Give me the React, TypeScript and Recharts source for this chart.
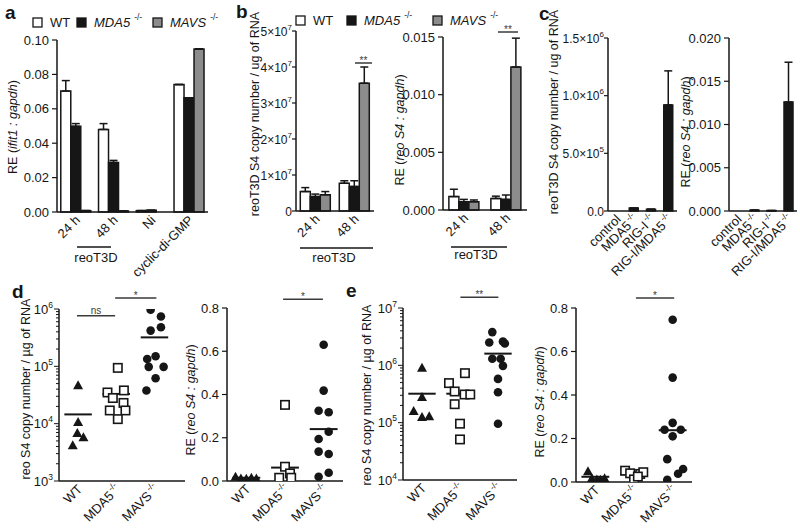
import React from "react";
import {
  BarChart, Bar, XAxis, YAxis, ErrorBar,
  ScatterChart, Scatter, ReferenceLine,
} from "recharts";

const W = 800;
const H = 531;
const YW = 50;
const XH = 30;
const FONT = "'Liberation Sans', Arial, Helvetica, sans-serif";
const INK = "#161616";
const GREY = "#8c8c8c";
const SIG = "#3a3a3a";

// ---- a: ifit1 induction
const aCats = ["24 h", "48 h", "Ni", "cyclic-di-GMP"];
const aWT = [0.0703, 0.048, 0.0008, 0.0741];
const aWTErr = [0.0061, 0.0034, 0, 0];
const aMDA5 = [0.0498, 0.0288, 0.001, 0.0664];
const aMDA5Err = [0.0016, 0.0012, 0, 0];
const aMAVS = [0.0008, 0.0006, 0, 0.0948];
const aTicks = [0, 0.02, 0.04, 0.06, 0.08, 0.1];

// ---- b: reoT3D S4 in knockout cells
const bCats = ["24 h", "48 h"];
const bCopyWT = [5.4e6, 7.7e6];
const bCopyWTErr = [1.1e6, 0.7e6];
const bCopyMDA5 = [4.0e6, 6.8e6];
const bCopyMDA5Err = [0.7e6, 1.6e6];
const bCopyMAVS = [4.5e6, 3.55e7];
const bCopyMAVSErr = [0.9e6, 0.45e7];
const bCopyTicks = [0, 1e7, 2e7, 3e7, 4e7, 5e7];
const bCopyTickLabels = [["0", ""], ["1×10", "7"], ["2×10", "7"], ["3×10", "7"], ["4×10", "7"], ["5×10", "7"]];
const bReWT = [0.00116, 0.001];
const bReWTErr = [0.00064, 0.0002];
const bReMDA5 = [0.00072, 0.00092];
const bReMDA5Err = [0.0002, 0.00038];
const bReMAVS = [0.00072, 0.0124];
const bReMAVSErr = [0.00015, 0.0025];
const bReTicks = [0, 0.005, 0.01, 0.015];

// ---- c: MEFs lacking RIG-I / MDA5
const cCats = ["control", "MDA5", "RIG-I", "RIG-I/MDA5"];
const cCopy = [0, 2.5e4, 1.5e4, 9.2e5];
const cCopyErr = [0, 0, 0, 2.95e5];
const cCopyTicks = [0, 5e5, 1e6, 1.5e6];
const cCopyTickLabels = [["0.0", ""], ["5.0×10", "5"], ["1.0×10", "6"], ["1.5×10", "6"]];
const cRe = [0, 0.0001, 0.00005, 0.0126];
const cReErr = [0, 0, 0, 0.0046];
const cReTicks = [0, 0.005, 0.01, 0.015, 0.02];
const cSup: Record<string, string> = { MDA5: "-/-", "RIG-I": "-/-", "RIG-I/MDA5": "-/-" };

// ---- d / e: individual mice
const groups = ["WT", "MDA5", "MAVS"];
const groupSup = ["", "-/-", "-/-"];
const logMajors = [1, 10];
const minorSteps = [1, 2, 3, 4, 5, 6, 7, 8, 9];
const reTicks = [0, 0.2, 0.4, 0.6, 0.8];

const dCopyWT = [4.7e4, 1.07e4, 6.9e3, 5.8e3, 4.2e3];
const dCopyWTx = [0, 0, -0.02, 0.14, -0.14];
const dCopyMDA5 = [9.4e4, 3.5e4, 3.8e4, 2.8e4, 2.3e4, 1.7e4, 1.7e4, 1.2e4];
const dCopyMDA5x = [0.04, -0.23, 0.2, -0.09, 0.19, -0.17, 0.24, 0.04];
const dCopyMAVS = [9.7e5, 7.4e5, 4.2e5, 4.8e5, 1.34e5, 1.5e5, 9.8e4, 9.8e4, 6.2e4, 3.8e4];
const dCopyMAVSx = [-0.1, 0.17, -0.1, 0.17, -0.19, 0.03, -0.15, 0.24, 0.03, -0.21];
const dCopyMeans = [1.45e4, 3.3e4, 3.2e5];

const dReWT = [0.02, 0.012, 0.01, 0.015, 0.011];
const dReWTx = [-0.28, -0.14, 0, 0.13, 0.26];
const dReMDA5 = [0.352, 0.066, 0.035, 0.015, 0.015];
const dReMDA5x = [0, 0, 0.13, -0.15, 0.16];
const dReMAVS = [0.63, 0.418, 0.325, 0.318, 0.228, 0.194, 0.136, 0.125, 0.038, 0.02];
const dReMAVSx = [0, 0, -0.13, 0.13, 0.13, -0.13, -0.13, 0.13, 0.13, -0.13];
const dReMeans = [0.015, 0.062, 0.24];

const eCopyWT = [9.1e5, 2.8e5, 1.6e5, 1.26e5, 1.3e5];
const eCopyWTx = [0, 0, -0.22, 0, 0.19];
const eCopyMDA5 = [7.3e5, 4.9e5, 3.5e5, 3.1e5, 3.1e5, 2.1e5, 9.6e4, 5.1e4];
const eCopyMDA5x = [0.13, -0.29, -0.14, 0.12, 0.27, -0.14, 0, 0];
const eCopyMAVS = [3.8e6, 2.5e6, 2.6e6, 2.4e6, 1.3e6, 1.3e6, 9.8e5, 5.8e5, 3.4e5, 9.6e4];
const eCopyMAVSx = [-0.15, -0.23, 0.13, 0.18, -0.15, 0.07, 0.13, 0, 0, 0];
const eCopyMeans = [3.2e5, 3.2e5, 1.6e6];

const eReWT = [0.05, 0.017, 0.012, 0.017, 0.01];
const eReWTx = [-0.19, -0.09, 0.04, 0.24, 0.13];
const eReMDA5 = [0.052, 0.04, 0.037, 0.045, 0.012, 0.025];
const eReMDA5x = [-0.23, -0.1, 0.16, 0.24, 0, 0.1];
const eReMAVS = [0.746, 0.48, 0.272, 0.24, 0.24, 0.21, 0.105, 0.06, 0.038, 0.01];
const eReMAVSx = [0, 0, 0, -0.21, 0.21, 0, -0.14, 0.27, 0.14, -0.14];
const eReMeans = [0.024, 0.035, 0.238];

// significance brackets: [from group, to group, y, text]
const dCopySig: [number, number, number, string][] = [[-0.03, 0.97, 7.6e5, "ns"], [0.97, 2.05, 1.56e6, "*"]];
const dReSig: [number, number, number, string][] = [[0.95, 1.98, 0.84, "*"]];
const eCopySig: [number, number, number, string][] = [[1.01, 2.01, 1.54e7, "**"]];
const eReSig: [number, number, number, string][] = [[1.05, 2.04, 0.846, "*"]];

type Box = [number, number, number, number];
const plotMargin = ([x0, x1, y0, y1]: Box) => ({ left: x0 - YW, right: W - x1, top: y0, bottom: H - y1 - XH });
const layer: React.CSSProperties = { position: "absolute", left: 0, top: 0 };
const axisLine = { stroke: INK, strokeWidth: 1.5 };
const tickLine = { stroke: INK, strokeWidth: 1.2 };
const tickFont = { fontSize: 13, fill: INK };

const logTicks = (lo: number, hi: number) => {
  const out: number[] = [];
  for (let m = lo; m < hi; m *= logMajors[1]) minorSteps.forEach((k) => out.push(m * k));
  out.push(hi);
  return out;
};

const pts = (ys: number[], xs: number[], g: number) => ys.map((y, i) => ({ x: g + xs[i], y }));

function RotLabel({ x, y, text, sup }: any) {
  const ax = x + 5;
  const ay = y + 9;
  return (
    <text x={ax} y={ay} transform={`rotate(-45 ${ax} ${ay})`} textAnchor="end" fontSize={13} fill={INK}>
      {text}
      {sup ? <tspan fontSize={8.5} dx={1.5} dy={-6}>{sup}</tspan> : null}
    </text>
  );
}

const CatTick = ({ x, y, payload, sup }: any) => (
  <RotLabel x={x} y={y} text={payload.value} sup={sup ? sup[payload.value] : ""} />
);

const GroupTick = ({ x, y, payload }: any) => (
  <RotLabel x={x} y={y} text={groups[payload.value]} sup={groupSup[payload.value]} />
);

const SciTick = ({ x, y, payload, labels, ticks }: any) => {
  const [base, exp] = labels[ticks.indexOf(payload.value)] || ["", ""];
  return (
    <text x={x} y={y} dy={4.5} textAnchor="end" fontSize={12} fill={INK}>
      {base}
      {exp ? <tspan fontSize={8} dy={-6}>{exp}</tspan> : null}
    </text>
  );
};

const LogTick = ({ x, y, payload }: any) => {
  const lg = Math.log10(payload.value);
  const major = Math.abs(lg - Math.round(lg)) < 1e-6;
  return (
    <g>
      <line x1={x} x2={x - (major ? 5 : 3)} y1={y} y2={y} stroke={INK} strokeWidth={1} />
      {major ? (
        <text x={x - 6} y={y} dy={4.5} textAnchor="end" fontSize={13} fill={INK}>
          10<tspan fontSize={8.5} dy={-6}>{Math.round(lg)}</tspan>
        </text>
      ) : null}
    </g>
  );
};

const Tri = (p: any) => (
  <path d={`M${p.cx},${p.cy - 5}L${p.cx + 5},${p.cy + 4}L${p.cx - 5},${p.cy + 4}Z`} fill={INK} />
);
const Sq = (p: any) => (
  <rect x={p.cx - 4.2} y={p.cy - 4.2} width={8.4} height={8.4} fill="#fff" stroke={INK} strokeWidth={1.6} />
);
const Dot = (p: any) => <circle cx={p.cx} cy={p.cy} r={4.3} fill={INK} />;

function BarPanel({ box, rows, keys, yDomain, yTicks, yTick, yFormat, gap, barSize, xSup }: any) {
  return (
    <div style={layer}>
      <BarChart width={W} height={H} data={rows} margin={plotMargin(box)} barCategoryGap={gap} barGap={0} barSize={barSize}>
        <XAxis dataKey="cat" interval={0} height={XH} axisLine={axisLine} tickLine={false} tickSize={0} tickMargin={0}
          tick={<CatTick sup={xSup} />} />
        <YAxis type="number" domain={yDomain} ticks={yTicks} interval={0} width={YW} axisLine={axisLine}
          tickLine={tickLine} tickSize={yTick ? 4 : 5} tickMargin={yTick ? 0 : 3} tick={yTick || tickFont}
          tickFormatter={yFormat} />
        {keys.map((k: any) => (
          <Bar key={k.key} dataKey={k.key} fill={k.fill} stroke={INK} strokeWidth={1.5} isAnimationActive={false}>
            <ErrorBar dataKey={k.key + "Err"} width={4} stroke={INK} strokeWidth={1.5} isAnimationActive={false} />
          </Bar>
        ))}
      </BarChart>
    </div>
  );
}

function DotPanel({ box, xDomain, log, yDomain, wt, mda5, mavs, means, sigs }: any) {
  return (
    <div style={layer}>
      <ScatterChart width={W} height={H} margin={plotMargin(box)}>
        <XAxis type="number" dataKey="x" domain={xDomain} ticks={[0, 1, 2]} interval={0} allowDataOverflow
          height={XH} axisLine={axisLine} tickLine={false} tickSize={0} tickMargin={0} tick={<GroupTick />} />
        {log ? (
          <YAxis type="number" dataKey="y" scale="log" domain={yDomain} allowDataOverflow ticks={logTicks(yDomain[0], yDomain[1])}
            interval={0} width={YW} axisLine={axisLine} tickLine={false} tickSize={0} tickMargin={0} tick={<LogTick />} />
        ) : (
          <YAxis type="number" dataKey="y" domain={yDomain} allowDataOverflow ticks={reTicks} interval={0} width={YW}
            axisLine={axisLine} tickLine={tickLine} tickSize={5} tickMargin={3} tick={tickFont}
            tickFormatter={(v: number) => v.toFixed(1)} />
        )}
        {means.map((m: number, i: number) => (
          <ReferenceLine key={"m" + i} segment={[{ x: i - 0.36, y: m }, { x: i + 0.36, y: m }]} stroke={INK} strokeWidth={2} ifOverflow="visible" />
        ))}
        {sigs.map(([a, b, y, t]: any, i: number) => (
          <ReferenceLine key={"s" + i} segment={[{ x: a, y }, { x: b, y }]} stroke={SIG} strokeWidth={1.5} ifOverflow="visible"
            label={{ value: t, position: "top", fontSize: 10, fill: SIG, offset: t === "ns" ? 2 : -1 }} />
        ))}
        <Scatter data={wt} shape={Tri} isAnimationActive={false} />
        <Scatter data={mda5} shape={Sq} isAnimationActive={false} />
        <Scatter data={mavs} shape={Dot} isAnimationActive={false} />
      </ScatterChart>
    </div>
  );
}

const legendItems = [
  { name: "WT", sup: "", fill: "#fff", italic: false },
  { name: "MDA5", sup: "-/-", fill: INK, italic: true },
  { name: "MAVS", sup: "-/-", fill: GREY, italic: true },
];

function LegendRow({ xs, y }: { xs: number[]; y: number }) {
  return (
    <g>
      {legendItems.map((it, i) => (
        <g key={it.name}>
          <rect x={xs[i]} y={y - 9} width={9} height={9} fill={it.fill} stroke={INK} strokeWidth={1.3} />
          <text x={xs[i] + 17} y={y} fontSize={13} fill={INK} fontStyle={it.italic ? "italic" : "normal"}>
            {it.name}
            {it.sup ? <tspan fontSize={8.5} dx={4} dy={-7} fontStyle="normal">{it.sup}</tspan> : null}
          </text>
        </g>
      ))}
    </g>
  );
}

function YLabel({ x, y, pre, it, post }: any) {
  return (
    <text transform={`translate(${x},${y}) rotate(-90)`} textAnchor="middle" dominantBaseline="central" fontSize={12.5} fill={INK}>
      {pre}
      {it ? <tspan fontStyle="italic">{it}</tspan> : null}
      {post}
    </text>
  );
}

const reoLabel = { pre: "RE (", it: "reo S4 : gapdh", post: ")" };

export default function App() {
  const aRows = aCats.map((cat, i) => ({
    cat, wt: aWT[i], wtErr: [0, aWTErr[i]], mda5: aMDA5[i], mda5Err: [0, aMDA5Err[i]], mavs: aMAVS[i], mavsErr: [0, 0],
  }));
  const bCopyRows = bCats.map((cat, i) => ({
    cat, wt: bCopyWT[i], wtErr: [0, bCopyWTErr[i]], mda5: bCopyMDA5[i], mda5Err: [0, bCopyMDA5Err[i]],
    mavs: bCopyMAVS[i], mavsErr: [0, bCopyMAVSErr[i]],
  }));
  const bReRows = bCats.map((cat, i) => ({
    cat, wt: bReWT[i], wtErr: [0, bReWTErr[i]], mda5: bReMDA5[i], mda5Err: [0, bReMDA5Err[i]],
    mavs: bReMAVS[i], mavsErr: [0, bReMAVSErr[i]],
  }));
  const cCopyRows = cCats.map((cat, i) => ({ cat, v: cCopy[i], vErr: [0, cCopyErr[i]] }));
  const cReRows = cCats.map((cat, i) => ({ cat, v: cRe[i], vErr: [0, cReErr[i]] }));

  const three = [{ key: "wt", fill: "#fff" }, { key: "mda5", fill: INK }, { key: "mavs", fill: GREY }];
  const one = [{ key: "v", fill: INK }];

  return (
    <div style={{ position: "absolute", left: 0, top: 0, width: W, height: H, background: "#fff", fontFamily: FONT }}>
      <BarPanel box={[57, 208, 40, 212]} rows={aRows} keys={three} yDomain={[0, 0.1]} yTicks={aTicks} gap="10%"
        yFormat={(v: number) => v.toFixed(2)} />
      <BarPanel box={[296, 374, 31, 211]} rows={bCopyRows} keys={three} yDomain={[0, 5e7]} yTicks={bCopyTicks} gap="11%"
        yTick={<SciTick labels={bCopyTickLabels} ticks={bCopyTicks} />} />
      <BarPanel box={[443, 527, 37, 210]} rows={bReRows} keys={three} yDomain={[0, 0.015]} yTicks={bReTicks} gap="14%"
        yFormat={(v: number) => v.toFixed(3)} />
      <BarPanel box={[608, 677, 38, 211]} rows={cCopyRows} keys={one} yDomain={[0, 1.5e6]} yTicks={cCopyTicks} barSize={9}
        gap="20%" xSup={cSup} yTick={<SciTick labels={cCopyTickLabels} ticks={cCopyTicks} />} />
      <BarPanel box={[729, 797, 38, 211]} rows={cReRows} keys={one} yDomain={[0, 0.02]} yTicks={cReTicks} barSize={9}
        gap="20%" xSup={cSup} yFormat={(v: number) => v.toFixed(3)} />

      <DotPanel box={[59, 185, 309, 481]} xDomain={[-0.5, 2.8]} log yDomain={[1e3, 1e6]}
        wt={pts(dCopyWT, dCopyWTx, 0)} mda5={pts(dCopyMDA5, dCopyMDA5x, 1)} mavs={pts(dCopyMAVS, dCopyMAVSx, 2)}
        means={dCopyMeans} sigs={dCopySig} />
      <DotPanel box={[227, 343, 308, 481]} xDomain={[-0.5, 2.5]} yDomain={[0, 0.8]}
        wt={pts(dReWT, dReWTx, 0)} mda5={pts(dReMDA5, dReMDA5x, 1)} mavs={pts(dReMAVS, dReMAVSx, 2)}
        means={dReMeans} sigs={dReSig} />
      <DotPanel box={[403, 517, 308, 480]} xDomain={[-0.5, 2.5]} log yDomain={[1e4, 1e7]}
        wt={pts(eCopyWT, eCopyWTx, 0)} mda5={pts(eCopyMDA5, eCopyMDA5x, 1)} mavs={pts(eCopyMAVS, eCopyMAVSx, 2)}
        means={eCopyMeans} sigs={eCopySig} />
      <DotPanel box={[576, 692, 308, 482]} xDomain={[-0.5, 2.5]} yDomain={[0, 0.8]}
        wt={pts(eReWT, eReWTx, 0)} mda5={pts(eReMDA5, eReMDA5x, 1)} mavs={pts(eReMAVS, eReMAVSx, 2)}
        means={eReMeans} sigs={eReSig} />

      <svg width={W} height={H} style={{ ...layer, pointerEvents: "none" }} fontFamily={FONT}>
        <g fontSize={19} fontWeight="bold" fill={INK}>
          <text x={5} y={19}>a</text>
          <text x={236} y={18}>b</text>
          <text x={539} y={20}>c</text>
          <text x={12} y={298}>d</text>
          <text x={346} y={297}>e</text>
        </g>

        <LegendRow xs={[33, 77, 153]} y={27} />
        <LegendRow xs={[296, 347, 433]} y={25} />

        <YLabel x={13} y={127} pre="RE (" it="ifit1 : gapdh" post=")" />
        <YLabel x={255} y={114} pre="reoT3D S4 copy number / ug of RNA" />
        <YLabel x={400} y={130} {...reoLabel} />
        <YLabel x={554} y={112} pre="reoT3D S4 copy number / ug of RNA" />
        <YLabel x={686} y={132} {...reoLabel} />
        <YLabel x={26} y={389} pre="reo S4 copy number / µg of RNA" />
        <YLabel x={191} y={400} {...reoLabel} />
        <YLabel x={367} y={395} pre="reo S4 copy number / µg of RNA" />
        <YLabel x={540} y={402} {...reoLabel} />

        <g stroke={INK} strokeWidth={1.3}>
          <line x1={77} x2={111} y1={247} y2={247} />
          <line x1={300} x2={373} y1={248} y2={248} />
          <line x1={451} x2={507} y1={247} y2={247} />
        </g>
        <g fontSize={13} fill={INK} textAnchor="middle">
          <text x={96} y={262}>reoT3D</text>
          <text x={334} y={262}>reoT3D</text>
          <text x={476} y={259}>reoT3D</text>
        </g>

        <g stroke={SIG} strokeWidth={1.5}>
          <line x1={355} x2={372} y1={63} y2={63} />
          <line x1={498} x2={518} y1={32} y2={32} />
        </g>
        <g fontSize={10} fill={SIG} textAnchor="middle">
          <text x={363.5} y={64}>**</text>
          <text x={508} y={33}>**</text>
        </g>
      </svg>
    </div>
  );
}
